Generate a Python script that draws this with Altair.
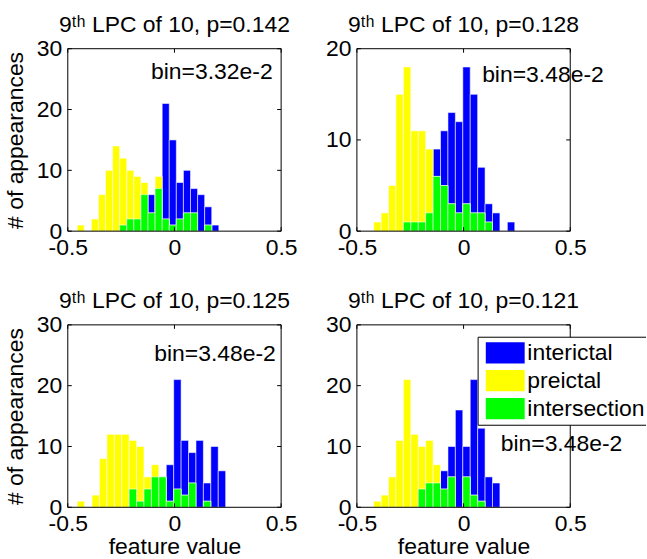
import altair as alt
import pandas as pd

FONT = "Liberation Sans, Arial, sans-serif"
FS = 23

series_names = ["interictal", "preictal", "intersection"]
series_colors = ["#0000ff", "#ffff00", "#00ff00"]

titles = ["9ᵗʰ LPC of 10, p=0.142", "9ᵗʰ LPC of 10, p=0.128",
          "9ᵗʰ LPC of 10, p=0.125", "9ᵗʰ LPC of 10, p=0.121"]
bin_labels = ["bin=3.32e-2", "bin=3.48e-2", "bin=3.48e-2", "bin=3.48e-2"]
bin_widths = [0.0332, 0.0348, 0.0348, 0.0348]
bin_start = [-0.456, -0.456, -0.456, -0.456]
y_max = [30, 20, 30, 30]
y_ticks = [[0, 10, 20, 30], [0, 10, 20], [0, 10, 20, 30], [0, 10, 20, 30]]
x_ticks = [-0.5, 0, 0.5]

# annotation anchor (data units)
ann_x = [-0.11, 0.087, -0.095, 0.174]
ann_y = [25.0, 16.4, 24.1, 9.3]

# counts per bin (interictal, preictal, intersection)
p1_inter = [0, 0, 0, 0, 0, 0, 1, 2, 2, 6, 6, 7, 21, 15, 8, 10, 7, 6, 4, 1]
p1_pre = [1, 0, 2, 6, 10, 14, 12, 10, 9, 8, 3, 9, 2, 1, 2, 3, 3, 0, 1, 0]
p1_int = [0, 0, 0, 0, 0, 0, 1, 2, 2, 6, 3, 7, 2, 1, 2, 3, 3, 0, 1, 0]

p2_inter = [0, 0, 0, 0, 0, 1, 1, 1, 2, 9, 11, 13, 12, 18, 15, 7, 3, 2, 0, 1]
p2_pre = [0, 1, 2, 5, 15, 18, 11, 11, 9, 6, 5, 3, 2, 3, 2, 2, 1, 0, 0, 0]
p2_int = [0, 0, 0, 0, 0, 1, 1, 1, 2, 6, 5, 3, 2, 3, 2, 2, 1, 0, 0, 0]

p3_inter = [0, 0, 0, 0, 0, 0, 0, 3, 1, 3, 5, 5, 7, 21, 11, 9, 11, 4, 10, 6]
p3_pre = [1, 0, 2, 8, 12, 12, 12, 11, 10, 5, 7, 5, 1, 3, 2, 4, 0, 1, 0, 0]
p3_int = [0, 0, 0, 0, 0, 0, 0, 3, 1, 3, 5, 5, 1, 3, 2, 4, 0, 1, 0, 0]

p4_inter = [0, 0, 0, 0, 0, 0, 0, 3, 4, 4, 6, 10, 16, 10, 21, 13, 5, 4]
p4_pre = [0, 1, 2, 5, 11, 21, 12, 10, 11, 7, 3, 5, 0, 5, 2, 1, 0, 0]
p4_int = [0, 0, 0, 0, 0, 0, 0, 3, 4, 4, 3, 5, 0, 5, 2, 1, 0, 0]

counts = [
    [p1_inter, p1_pre, p1_int],
    [p2_inter, p2_pre, p2_int],
    [p3_inter, p3_pre, p3_int],
    [p4_inter, p4_pre, p4_int],
]

W, H = 214, 183
TICK = 4


def panel(i, ytitle, xtitle, legend=False):
    w = bin_widths[i]
    rows = []
    for name, arr in zip(series_names, counts[i]):
        for k, c in enumerate(arr):
            x0 = bin_start[i] + k * w
            rows.append(dict(series=name, x0=x0, x1=x0 + w, count=c))
    df = pd.DataFrame(rows)
    df = df[df["count"] > 0]

    xs = alt.Scale(domain=[-0.5, 0.5], nice=False, zero=False)
    ys = alt.Scale(domain=[0, y_max[i]], nice=False)
    xaxis = alt.Axis(values=x_ticks, labelExpr="'' + datum.value", title=xtitle,
                     ticks=False, domain=False, grid=False, labelFlush=False,
                     tickSize=0, labelPadding=5, titlePadding=0)
    yaxis = alt.Axis(values=y_ticks[i], title=ytitle, ticks=False, domain=False,
                     grid=False, labelFlush=False, tickSize=0, labelPadding=6,
                     titlePadding=9)

    layers = []
    for name, col in zip(series_names, series_colors):
        layers.append(
            alt.Chart(df).transform_filter(alt.datum.series == name)
            .mark_rect(color=col, stroke="white", strokeWidth=0.7, strokeOpacity=0.8)
            .encode(
                x=alt.X("x0:Q", scale=xs, axis=xaxis),
                x2="x1:Q",
                y=alt.Y("count:Q", scale=ys, axis=yaxis),
                y2=alt.datum(0),
            )
        )

    ann = pd.DataFrame({"x": [ann_x[i]], "y": [ann_y[i]], "t": [bin_labels[i]]})
    layers.append(
        alt.Chart(ann).mark_text(align="left", baseline="alphabetic", fontSize=FS,
                                 font=FONT, color="black")
        .encode(x=alt.X("x:Q", scale=xs, axis=xaxis), y=alt.Y("y:Q", scale=ys, axis=yaxis),
                text="t:N")
    )

    # inner ticks
    xt = pd.DataFrame({"v": x_ticks})
    yt = pd.DataFrame({"v": y_ticks[i]})
    layers.append(alt.Chart(xt).mark_rule(color="black").encode(
        x=alt.X("v:Q", scale=xs, axis=xaxis), y=alt.value(H), y2=alt.value(H - TICK)))
    layers.append(alt.Chart(xt).mark_rule(color="black").encode(
        x=alt.X("v:Q", scale=xs, axis=xaxis), y=alt.value(0), y2=alt.value(TICK)))
    layers.append(alt.Chart(yt).mark_rule(color="black").encode(
        y=alt.Y("v:Q", scale=ys, axis=yaxis), x=alt.value(0), x2=alt.value(TICK)))
    layers.append(alt.Chart(yt).mark_rule(color="black").encode(
        y=alt.Y("v:Q", scale=ys, axis=yaxis), x=alt.value(W - TICK), x2=alt.value(W)))

    # frame
    one = pd.DataFrame({"a": [0]})
    layers.append(alt.Chart(one).mark_rect(fillOpacity=0, stroke="black", strokeWidth=1).encode(
        x=alt.value(0), x2=alt.value(W), y=alt.value(0), y2=alt.value(H)))

    if legend:
        lx0, lx1, ly0, ly1 = 121.6, 290.0, 12.4, 100.7
        layers.append(alt.Chart(one).mark_rect(fill="white", strokeWidth=0).encode(
            x=alt.value(lx0), x2=alt.value(lx1), y=alt.value(ly0), y2=alt.value(ly1)))
        layers.append(alt.Chart(one).mark_rule(color="black").encode(
            x=alt.value(lx0), x2=alt.value(lx1), y=alt.value(ly0)))
        layers.append(alt.Chart(one).mark_rule(color="black").encode(
            x=alt.value(lx0), x2=alt.value(lx1), y=alt.value(ly1)))
        layers.append(alt.Chart(one).mark_rule(color="black").encode(
            x=alt.value(lx0), y=alt.value(ly0), y2=alt.value(ly1)))
        for r, (name, col) in enumerate(zip(series_names, series_colors)):
            top = 17.4 + 28 * r
            layers.append(alt.Chart(one).mark_rect(fill=col, strokeWidth=0).encode(
                x=alt.value(129.3), x2=alt.value(168.3), y=alt.value(top), y2=alt.value(top + 21.3)))
            layers.append(alt.Chart(pd.DataFrame({"t": [name]})).mark_text(
                align="left", baseline="middle", fontSize=FS, font=FONT, color="black").encode(
                x=alt.value(171), y=alt.value(top + 10.7), text="t:N"))

    return alt.layer(*layers).properties(
        width=W, height=H,
        title=alt.TitleParams(titles[i], fontSize=FS, font=FONT, fontWeight="normal",
                              color="black", anchor="middle", baseline="alphabetic",
                              offset=-17),
    )


p1 = panel(0, "# of appearances", None)
p2 = panel(1, None, None)
p3 = panel(2, "# of appearances", "feature value")
p4 = panel(3, None, "feature value", legend=True)

chart = alt.concat(p1, p2, p3, p4, columns=2, spacing={"row": 94, "column": 76},
                   bounds="flush").properties(
    padding={"left": 4, "top": 13, "right": 0, "bottom": 0},
    background="white",
).configure_view(stroke=None).configure_axis(
    labelFont=FONT, titleFont=FONT, labelFontSize=FS, titleFontSize=FS,
    titleFontWeight="normal", labelColor="black", titleColor="black",
).configure_text(font=FONT)

chart.save("out.html", embed_options={"renderer": "svg", "actions": False})
